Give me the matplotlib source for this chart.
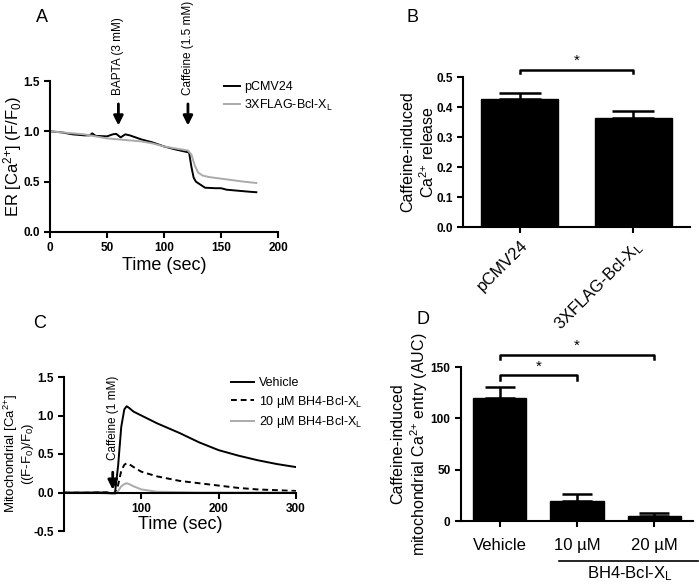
import matplotlib
matplotlib.use("Agg")
import matplotlib.pyplot as plt
import numpy as np

plt.rcParams['font.family'] = ['Liberation Sans', 'DejaVu Sans']
plt.rcParams['mathtext.fontset'] = 'custom'
plt.rcParams['mathtext.rm'] = 'Liberation Sans'
plt.rcParams['mathtext.it'] = 'Liberation Sans'
plt.rcParams['axes.linewidth'] = 1.5

# ---- panel A data (ER Ca2+ trace) ----
a_time_black = [0, 10, 20, 30, 35, 37, 40, 50, 55, 58, 62, 66, 70, 80, 90, 100, 110, 118, 122, 124, 126, 128, 132, 136, 145, 150, 155, 165, 175, 181]
a_pcmv24 = [1.0, 0.99, 0.97, 0.96, 0.96, 0.98, 0.955, 0.95, 0.97, 0.975, 0.94, 0.97, 0.96, 0.92, 0.89, 0.85, 0.82, 0.80, 0.79, 0.65, 0.54, 0.50, 0.47, 0.44, 0.435, 0.435, 0.42, 0.41, 0.40, 0.395]
a_time_grey = [0, 10, 20, 30, 40, 50, 60, 70, 80, 90, 100, 110, 118, 121, 124, 127, 130, 134, 140, 150, 160, 170, 181]
a_bcl = [1.0, 0.99, 0.98, 0.97, 0.95, 0.93, 0.92, 0.91, 0.90, 0.88, 0.85, 0.83, 0.815, 0.81, 0.77, 0.66, 0.59, 0.56, 0.545, 0.53, 0.515, 0.50, 0.487]

# ---- panel B data ----
b_labels = ['pCMV24', '3XFLAG-Bcl-X$_\\mathregular{L}$']
b_means = [0.428, 0.365]
b_sem = [0.018, 0.021]

# ---- panel C data (mitochondrial Ca2+) ----
c_time = [0, 30, 55, 62, 66, 70, 74, 78, 81, 84, 90, 100, 120, 150, 175, 200, 225, 250, 275, 300]
c_vehicle = [0.0, 0.0, 0.0, -0.01, 0.0, 0.35, 0.85, 1.08, 1.12, 1.10, 1.05, 1.00, 0.90, 0.77, 0.65, 0.55, 0.48, 0.42, 0.37, 0.33]
c_10um = [0.0, 0.0, 0.0, -0.01, -0.01, 0.10, 0.28, 0.36, 0.38, 0.37, 0.33, 0.27, 0.21, 0.15, 0.12, 0.09, 0.06, 0.04, 0.03, 0.02]
c_20um = [0.0, 0.0, -0.01, -0.02, -0.02, 0.02, 0.08, 0.11, 0.12, 0.11, 0.08, 0.04, 0.01, 0.005, 0.0, 0.0, 0.0, 0.0, 0.0, 0.0]

# ---- panel D data ----
d_labels = ['Vehicle', '10 µM', '20 µM']
d_means = [120, 19.5, 4.5]
d_sem = [11, 6.5, 3.5]

CA = 'Ca$^{2{+}}$'

W, H = 699, 587
fig = plt.figure(figsize=(W / 100, H / 100), dpi=100)


def px_axes(l, t, r, b):
    return fig.add_axes([l / W, (H - b) / H, (r - l) / W, (b - t) / H])


def style(ax):
    ax.spines['top'].set_visible(False)
    ax.spines['right'].set_visible(False)
    ax.tick_params(direction='out', length=4, width=1.5, labelsize=8.5)
    for lab in ax.get_xticklabels() + ax.get_yticklabels():
        lab.set_fontweight('bold')


def ylab(ax, text, xfrac, size=11.5, spacing=1.2):
    ax.set_ylabel(text, fontsize=size, va='center', linespacing=spacing)
    ax.yaxis.set_label_coords(xfrac, 0.5)


def bracket(ax, x0, x1, y, h, star_y):
    ax.plot([x0, x0, x1, x1], [y - h, y, y, y - h], color='black', lw=1.8, clip_on=False)
    ax.text((x0 + x1) / 2, star_y, '*', ha='center', va='center', fontsize=11)


# ================= A =================
axA = px_axes(50, 81, 278, 232)
axA.plot(a_time_black, a_pcmv24, color='black', lw=1.4, label='pCMV24')
axA.plot(a_time_grey, a_bcl, color='#aaaaaa', lw=1.4, label='3XFLAG-Bcl-X$_\\mathregular{L}$')
axA.set_xlim(0, 200)
axA.set_ylim(0, 1.5)
axA.set_xticks([0, 50, 100, 150, 200])
axA.set_yticks([0.0, 0.5, 1.0, 1.5])
axA.yaxis.set_major_formatter(matplotlib.ticker.FormatStrFormatter('%.1f'))
style(axA)
axA.set_xlabel('Time (sec)', fontsize=13, labelpad=2)
ylab(axA, 'ER [' + CA + '] (F/F$_0$)', (13 - 50) / 228, 12)
axA.legend(loc='upper left', bbox_to_anchor=(0.74, 1.03), frameon=False, fontsize=9,
           handlelength=1.3, handletextpad=0.3, labelspacing=0.35, borderaxespad=0)
for xa, txt in [(60, 'BAPTA (3 mM)'), (121, 'Caffeine (1.5 mM)')]:
    axA.annotate('', xy=(xa, 1.03), xytext=(xa, 1.3),
                 arrowprops=dict(arrowstyle='-|>', color='black', lw=2, mutation_scale=14))
    axA.text(xa, 1.36, txt, rotation=90, ha='center', va='bottom', fontsize=8.5, clip_on=False)
fig.text(42 / W, 1 - 18 / H, 'A', fontsize=13, ha='center', va='center')

# ================= B =================
axB = px_axes(463, 77, 690, 227)
xb = np.arange(len(b_means))
axB.bar(xb, b_means, width=0.68, color='black', edgecolor='black')
axB.errorbar(xb, b_means, yerr=[[0, 0], b_sem], fmt='none', ecolor='black', elinewidth=1.8, capsize=15, capthick=1.8)
axB.set_xlim(-0.5, 1.5)
axB.set_ylim(0, 0.5)
axB.set_yticks([0.0, 0.1, 0.2, 0.3, 0.4, 0.5])
axB.yaxis.set_major_formatter(matplotlib.ticker.FormatStrFormatter('%.1f'))
axB.set_xticks(xb)
style(axB)
axB.set_xticklabels(b_labels, rotation=45, ha='right', va='top', rotation_mode='anchor', fontsize=12, fontweight='normal')
ylab(axB, 'Caffeine-induced\n' + CA + ' release', (419 - 463) / 227)
bracket(axB, 0, 1, 0.525, 0.012, 0.555)
fig.text(413 / W, 1 - 18 / H, 'B', fontsize=13, ha='center', va='center')

# ================= C =================
axC = px_axes(64, 377, 296, 531)
axC.plot(c_time, c_vehicle, color='black', lw=1.4, label='Vehicle')
axC.plot(c_time, c_10um, color='black', lw=1.4, ls=(0, (3, 2)), label='10 µM BH4-Bcl-X$_\\mathregular{L}$')
axC.plot(c_time, c_20um, color='#aaaaaa', lw=1.4, label='20 µM BH4-Bcl-X$_\\mathregular{L}$')
axC.set_xlim(0, 300)
axC.set_ylim(-0.5, 1.5)
axC.spines['bottom'].set_position(('data', 0))
axC.set_xticks([100, 200, 300])
axC.set_yticks([-0.5, 0.0, 0.5, 1.0, 1.5])
axC.yaxis.set_major_formatter(matplotlib.ticker.FormatStrFormatter('%.1f'))
style(axC)
axC.set_xlabel('Time (sec)', fontsize=13, labelpad=2)
axC.xaxis.set_label_coords(0.5, 0.1)
ylab(axC, 'Mitochondrial [' + CA + ']\n((F-F$_0$)/F$_0$)', (18.5 - 64) / 232, 9.5, 1.0)
axC.legend(loc='upper left', bbox_to_anchor=(0.7, 1.03), frameon=False, fontsize=9,
           handlelength=1.8, handletextpad=0.4, labelspacing=0.35, borderaxespad=0)
axC.annotate('', xy=(63, 0.0), xytext=(63, 0.3),
             arrowprops=dict(arrowstyle='-|>', color='black', lw=2, mutation_scale=14))
axC.text(63, 0.42, 'Caffeine (1 mM)', rotation=90, ha='center', va='bottom', fontsize=8.5)
fig.text(40 / W, 1 - 323 / H, 'C', fontsize=13, ha='center', va='center')

# ================= D =================
axD = px_axes(461, 367, 693, 521)
xd = np.arange(len(d_means))
axD.bar(xd, d_means, width=0.69, color='black', edgecolor='black')
axD.errorbar(xd, d_means, yerr=[[0, 0, 0], d_sem], fmt='none', ecolor='black', elinewidth=1.8, capsize=10.5, capthick=1.8)
axD.set_xlim(-0.5, 2.5)
axD.set_ylim(0, 150)
axD.set_yticks([0, 50, 100, 150])
axD.set_xticks(xd)
style(axD)
axD.tick_params(axis='x', pad=8)
axD.set_xticklabels(d_labels, fontsize=12, fontweight='normal')
ylab(axD, 'Caffeine-induced\nmitochondrial ' + CA + ' entry (AUC)', (410 - 461) / 232)
bracket(axD, 0, 1, 142, 4.5, 150)
bracket(axD, 0, 2, 162, 4.5, 171)
axD.plot([0.77, 2.56], [-39, -39], color='black', lw=1.2, clip_on=False)
axD.text(1.69, -51, 'BH4-Bcl-X$_\\mathregular{L}$', ha='center', va='center', fontsize=12)
fig.text(423 / W, 1 - 319 / H, 'D', fontsize=13, ha='center', va='center')

fig.savefig('out.png', dpi=100)
